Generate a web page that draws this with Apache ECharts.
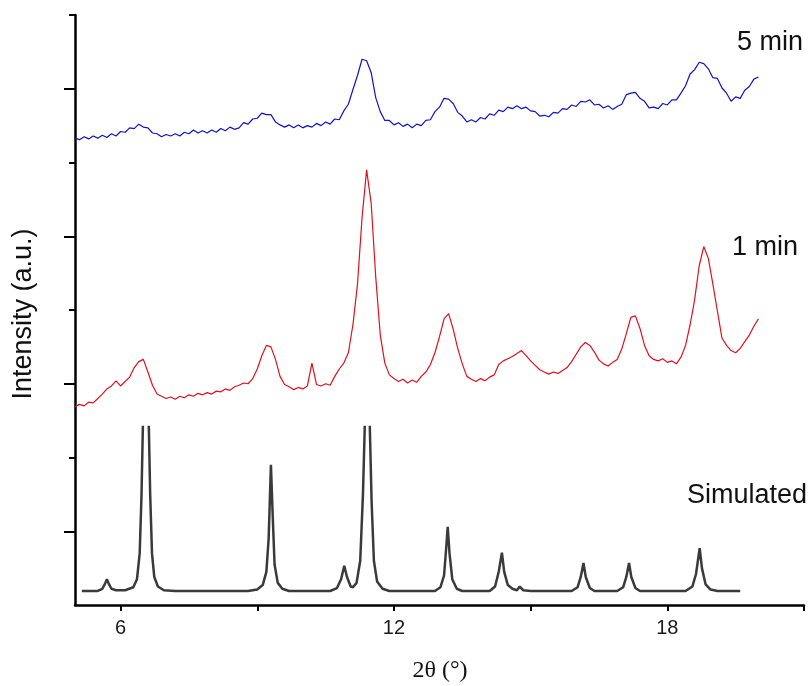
<!DOCTYPE html>
<html>
<head>
<meta charset="utf-8">
<script src="https://cdn.jsdelivr.net/npm/echarts@6/dist/echarts.min.js"></script>
<style>
  html, body { margin: 0; padding: 0; background: #fff; }
  #xrd { width: 811px; height: 686px; }
</style>
</head>
<body>
<div id="xrd"></div>
<script>
// 2theta sampling of the measured patterns
let twoTheta = [5.0,5.1,5.2,5.3,5.4,5.5,5.6,5.7,5.8,5.9,6.0,6.1,6.2,6.3,6.4,6.5,6.6,6.7,6.8,6.9,
  7.0,7.1,7.2,7.3,7.4,7.5,7.6,7.7,7.8,7.9,8.0,8.1,8.2,8.3,8.4,8.5,8.6,8.7,8.8,8.9,
  9.0,9.1,9.2,9.3,9.4,9.5,9.6,9.7,9.8,9.9,10.0,10.1,10.2,10.3,10.4,10.5,10.6,10.7,10.8,10.9,
  11.0,11.1,11.2,11.3,11.4,11.5,11.6,11.7,11.8,11.9,12.0,12.1,12.2,12.3,12.4,12.5,12.6,12.7,12.8,12.9,
  13.0,13.1,13.2,13.3,13.4,13.5,13.6,13.7,13.8,13.9,14.0,14.1,14.2,14.3,14.4,14.5,14.6,14.7,14.8,14.9,
  15.0,15.1,15.2,15.3,15.4,15.5,15.6,15.7,15.8,15.9,16.0,16.1,16.2,16.3,16.4,16.5,16.6,16.7,16.8,16.9,
  17.0,17.1,17.2,17.3,17.4,17.5,17.6,17.7,17.8,17.9,18.0,18.1,18.2,18.3,18.4,18.5,18.6,18.7,18.8,18.9,
  19.0,19.1,19.2,19.3,19.4,19.5,19.6,19.7,19.8,19.9,20.0];

// 5 min (blue), offset intensity
let min5 = [6.33,6.31,6.35,6.32,6.36,6.33,6.37,6.34,6.39,6.36,6.42,6.41,6.47,6.46,6.52,6.48,6.47,6.40,6.39,6.35,
  6.38,6.36,6.39,6.36,6.41,6.39,6.44,6.40,6.43,6.40,6.44,6.41,6.46,6.43,6.48,6.45,6.47,6.54,6.52,6.59,
  6.60,6.67,6.65,6.65,6.55,6.51,6.48,6.51,6.47,6.51,6.47,6.50,6.48,6.53,6.50,6.55,6.52,6.59,6.58,6.70,
  6.79,6.99,7.18,7.40,7.38,7.22,6.88,6.69,6.57,6.57,6.51,6.54,6.49,6.52,6.47,6.52,6.50,6.57,6.58,6.69,
  6.75,6.87,6.86,6.80,6.68,6.63,6.55,6.58,6.55,6.61,6.59,6.66,6.64,6.71,6.69,6.75,6.73,6.77,6.73,6.75,
  6.70,6.69,6.63,6.64,6.62,6.68,6.67,6.73,6.72,6.78,6.76,6.83,6.82,6.85,6.78,6.79,6.74,6.77,6.72,6.76,
  6.79,6.92,6.94,6.95,6.87,6.83,6.74,6.75,6.73,6.80,6.78,6.85,6.85,6.94,7.04,7.20,7.26,7.36,7.34,7.27,
  7.15,7.14,7.01,6.94,6.83,6.89,6.87,6.98,7.03,7.13,7.16];

// 1 min (red), offset intensity
let min1 = [2.69,2.72,2.70,2.75,2.74,2.80,2.86,2.93,2.97,3.04,2.97,3.03,3.09,3.22,3.30,3.33,3.16,2.98,2.86,2.83,
  2.80,2.82,2.79,2.83,2.81,2.85,2.83,2.87,2.85,2.88,2.86,2.90,2.89,2.93,2.91,2.96,2.98,3.01,3.00,3.07,
  3.20,3.38,3.52,3.50,3.33,3.10,2.99,2.96,2.92,2.95,2.93,2.97,3.28,2.99,2.97,3.00,2.98,3.10,3.20,3.28,
  3.42,3.80,4.35,5.25,5.90,5.45,4.45,3.66,3.28,3.12,3.07,3.03,3.06,3.01,3.05,3.02,3.10,3.16,3.26,3.42,
  3.64,3.88,3.95,3.74,3.48,3.27,3.10,3.06,3.03,3.07,3.04,3.09,3.12,3.26,3.31,3.34,3.37,3.41,3.45,3.38,
  3.31,3.25,3.19,3.16,3.13,3.16,3.14,3.18,3.22,3.30,3.40,3.50,3.56,3.52,3.43,3.32,3.27,3.24,3.29,3.33,
  3.47,3.68,3.90,3.92,3.75,3.52,3.38,3.33,3.31,3.34,3.29,3.31,3.27,3.36,3.52,3.80,4.14,4.60,4.86,4.70,
  4.35,3.98,3.62,3.52,3.45,3.42,3.48,3.57,3.66,3.78,3.88];

// simulated pattern, two strongest peaks run off scale ('-' breaks the line)
let simX = [5.15,5.5,5.6,5.66,5.70,5.74,5.8,5.9,6.1,6.28,6.36,6.42,6.46,6.49,6.555,6.62,6.65,6.69,6.74,6.82,6.95,7.2,
  8.8,9.0,9.12,9.2,9.25,9.3,9.34,9.38,9.45,9.55,9.7,
  10.6,10.75,10.84,10.91,10.97,11.05,11.1,11.18,11.26,11.32,11.36,11.415,11.47,11.51,11.56,11.63,11.75,11.9,
  12.9,13.02,13.1,13.15,13.18,13.22,13.28,13.38,13.5,
  14.1,14.22,14.3,14.37,14.42,14.5,14.6,14.7,14.76,14.84,15.0,
  15.9,16.03,16.1,16.16,16.21,16.3,16.4,
  16.9,17.03,17.1,17.16,17.21,17.3,17.4,
  18.4,18.55,18.63,18.71,18.76,18.84,18.95,19.1,19.6];
let simY = [0.19,0.19,0.22,0.29,0.35,0.29,0.22,0.20,0.20,0.24,0.35,0.70,1.50,2.43,'-',2.43,1.50,0.70,0.38,0.25,0.20,0.19,
  0.19,0.21,0.27,0.45,0.90,1.90,1.20,0.55,0.30,0.22,0.19,
  0.19,0.23,0.35,0.53,0.38,0.25,0.24,0.30,0.60,1.50,2.43,'-',2.43,1.40,0.60,0.32,0.22,0.19,
  0.19,0.24,0.40,0.80,1.06,0.70,0.35,0.22,0.19,
  0.19,0.25,0.45,0.71,0.45,0.27,0.22,0.20,0.25,0.20,0.19,
  0.19,0.24,0.38,0.57,0.38,0.23,0.19,
  0.19,0.24,0.38,0.57,0.38,0.23,0.19,
  0.19,0.25,0.42,0.77,0.50,0.28,0.21,0.19,0.19];

let xLabels = [6, 12, 18];
let xTicks = [6, 9, 12, 15, 18, 21];
let yMajor = [1, 3, 5, 7];
let yMinor = [2, 4, 6, 8];

function pairs(xs, ys) {
  return xs.map(function (x, i) { return [x, ys[i]]; });
}

let chart = echarts.init(document.getElementById('xrd'));
let axisLine = { show: true, lineStyle: { color: '#000', width: 2.5 } };

chart.setOption({
  animation: false,
  grid: { left: 75, right: 7, top: 15, bottom: 81, outerBoundsMode: 'none' },
  xAxis: {
    type: 'value', min: 5, max: 21,
    axisLine: axisLine,
    axisTick: { customValues: xTicks, length: 6, lineStyle: { color: '#000', width: 2 } },
    axisLabel: { customValues: xLabels, fontSize: 20, color: '#1a1a1a', margin: 13, fontFamily: 'Liberation Sans, Arial' },
    splitLine: { show: false }
  },
  yAxis: [{
    type: 'value', min: 0, max: 8, position: 'left',
    axisLine: axisLine,
    axisTick: { customValues: yMajor, length: 11, lineStyle: { color: '#000', width: 2 } },
    axisLabel: { show: false },
    splitLine: { show: false }
  }, {
    type: 'value', min: 0, max: 8, position: 'left', offset: 0,
    axisLine: { show: false },
    axisTick: { show: true, customValues: yMinor, length: 6, lineStyle: { color: '#000', width: 2 } },
    axisLabel: { show: false },
    splitLine: { show: false }
  }],
  series: [{
    name: '5 min', type: 'line', showSymbol: false,
    data: pairs(twoTheta, min5),
    lineStyle: { color: '#1212c8', width: 1.2 }
  }, {
    name: '1 min', type: 'line', showSymbol: false,
    data: pairs(twoTheta, min1),
    lineStyle: { color: '#e0101e', width: 1.2 }
  }, {
    name: 'Simulated', type: 'line', showSymbol: false,
    data: pairs(simX, simY),
    lineStyle: { color: '#3a3a3a', width: 2.5 }
  }],
  graphic: [
    { type: 'text', x: 24, y: 314, rotation: Math.PI / 2,
      style: { text: 'Intensity (a.u.)', fontSize: 27, fontFamily: 'Liberation Sans, Arial', fill: '#111', align: 'center', verticalAlign: 'middle' } },
    { type: 'text', x: 440, y: 671,
      style: { text: '2θ (°)', fontSize: 24, fontFamily: 'Liberation Serif, Times New Roman', fill: '#111', align: 'center', verticalAlign: 'middle' } },
    { type: 'text', x: 803, y: 43,
      style: { text: '5 min', fontSize: 27, fontFamily: 'Liberation Sans, Arial', fill: '#111', align: 'right', verticalAlign: 'middle' } },
    { type: 'text', x: 798, y: 248,
      style: { text: '1 min', fontSize: 27, fontFamily: 'Liberation Sans, Arial', fill: '#111', align: 'right', verticalAlign: 'middle' } },
    { type: 'text', x: 807, y: 496,
      style: { text: 'Simulated', fontSize: 27, fontFamily: 'Liberation Sans, Arial', fill: '#111', align: 'right', verticalAlign: 'middle' } }
  ]
});
</script>
</body>
</html>
